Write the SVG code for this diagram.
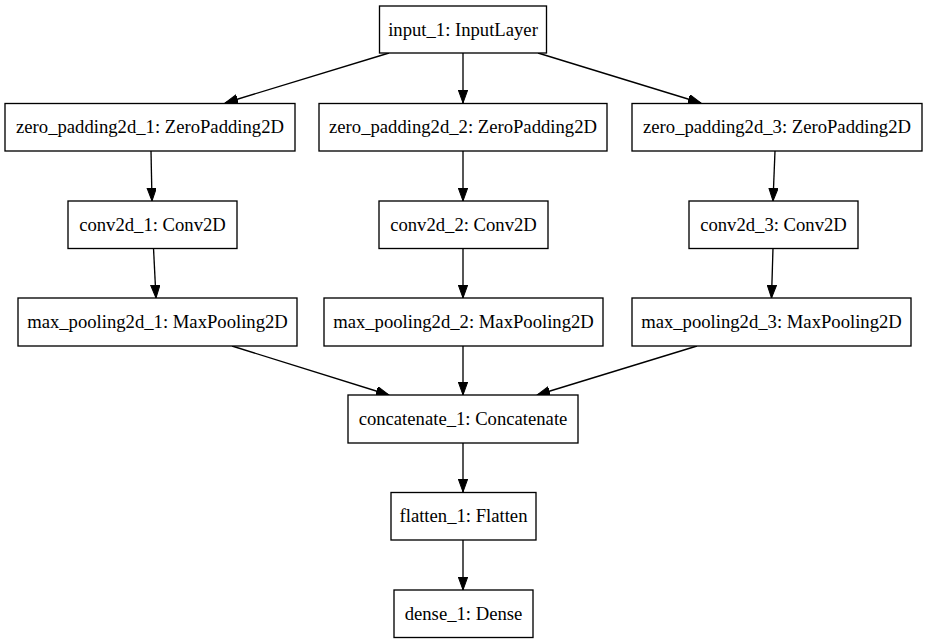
<svg xmlns="http://www.w3.org/2000/svg" width="927" height="644" viewBox="0 0 927 644">
<style>
.box{fill:#fff;stroke:#000;stroke-width:1.33}
.lbl{font-family:"Liberation Serif","Times New Roman",serif;font-size:18.67px;fill:#000;text-anchor:middle}
.edge{stroke:#000;stroke-width:1.33;fill:none;marker-end:url(#arr)}
</style>
<defs>
<marker id="arr" markerUnits="userSpaceOnUse" markerWidth="14" markerHeight="10" refX="13" refY="4.7" orient="auto">
<path d="M0,0 L13,4.7 L0,9.4 z" fill="#000" stroke="#000" stroke-width="1"/>
</marker>
</defs>
<rect width="927" height="644" fill="#fff"/>
<g id="edges">
<line class="edge" x1="389" y1="53" x2="225" y2="103"/>
<line class="edge" x1="463" y1="53" x2="463" y2="103"/>
<line class="edge" x1="538" y1="53" x2="701" y2="103"/>
<line class="edge" x1="151" y1="151" x2="152" y2="201"/>
<line class="edge" x1="463" y1="151" x2="463" y2="201"/>
<line class="edge" x1="775" y1="151" x2="773" y2="201"/>
<line class="edge" x1="153.5" y1="248" x2="156" y2="298"/>
<line class="edge" x1="463" y1="248" x2="463" y2="298"/>
<line class="edge" x1="773" y1="248" x2="771.5" y2="298"/>
<line class="edge" x1="232" y1="346" x2="389" y2="395"/>
<line class="edge" x1="463" y1="346" x2="463" y2="395"/>
<line class="edge" x1="697" y1="346" x2="537" y2="395"/>
<line class="edge" x1="463" y1="443" x2="463" y2="492"/>
<line class="edge" x1="463" y1="540" x2="463" y2="590"/>
</g>
<g id="input_1"><rect class="box" x="379.5" y="6" width="167" height="47"/><text class="lbl" x="463" y="35.5">input_1: InputLayer</text></g>
<g id="zero_padding2d_1"><rect class="box" x="5" y="103.5" width="290" height="47.5"/><text class="lbl" x="150" y="133">zero_padding2d_1: ZeroPadding2D</text></g>
<g id="zero_padding2d_2"><rect class="box" x="319" y="103.5" width="288" height="47.5"/><text class="lbl" x="463" y="133">zero_padding2d_2: ZeroPadding2D</text></g>
<g id="zero_padding2d_3"><rect class="box" x="632" y="103.5" width="290" height="47.5"/><text class="lbl" x="777" y="133">zero_padding2d_3: ZeroPadding2D</text></g>
<g id="conv2d_1"><rect class="box" x="68" y="201" width="169" height="47.5"/><text class="lbl" x="152.5" y="230.5">conv2d_1: Conv2D</text></g>
<g id="conv2d_2"><rect class="box" x="379" y="201" width="169" height="47.5"/><text class="lbl" x="463.5" y="230.5">conv2d_2: Conv2D</text></g>
<g id="conv2d_3"><rect class="box" x="689" y="201" width="169" height="47.5"/><text class="lbl" x="773.5" y="230.5">conv2d_3: Conv2D</text></g>
<g id="max_pooling2d_1"><rect class="box" x="18" y="298" width="279" height="48"/><text class="lbl" x="157.5" y="327.5">max_pooling2d_1: MaxPooling2D</text></g>
<g id="max_pooling2d_2"><rect class="box" x="324" y="298" width="279" height="48"/><text class="lbl" x="463.5" y="327.5">max_pooling2d_2: MaxPooling2D</text></g>
<g id="max_pooling2d_3"><rect class="box" x="632" y="298" width="279" height="48"/><text class="lbl" x="771.5" y="327.5">max_pooling2d_3: MaxPooling2D</text></g>
<g id="concatenate_1"><rect class="box" x="348" y="395" width="230" height="48"/><text class="lbl" x="463" y="424.5">concatenate_1: Concatenate</text></g>
<g id="flatten_1"><rect class="box" x="391" y="492.5" width="145" height="47.5"/><text class="lbl" x="463.5" y="522">flatten_1: Flatten</text></g>
<g id="dense_1"><rect class="box" x="394" y="590" width="139" height="47.5"/><text class="lbl" x="463.5" y="619.5">dense_1: Dense</text></g>
</svg>
